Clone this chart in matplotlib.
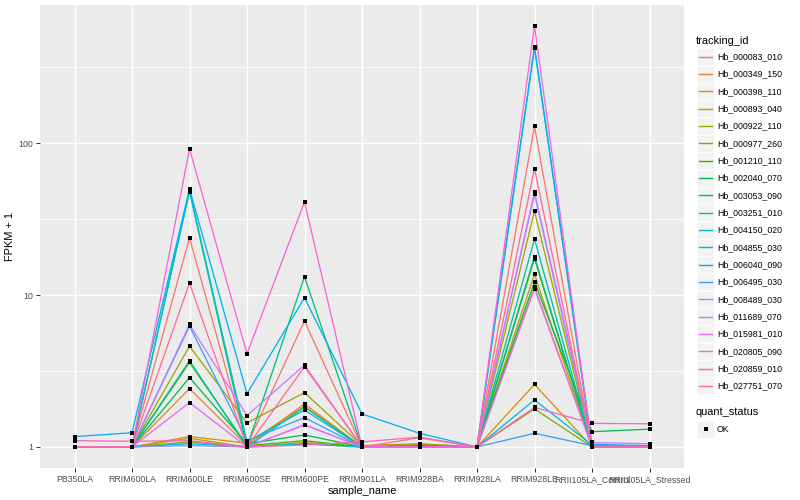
import matplotlib
matplotlib.use("Agg")
import matplotlib.pyplot as plt
from matplotlib.patches import Rectangle
from matplotlib.ticker import FixedLocator, NullFormatter
import numpy as np

plt.rcParams['font.family'] = ['Liberation Sans', 'DejaVu Sans']

samples = ["PB350LA", "RRIM600LA", "RRIM600LE", "RRIM600SE", "RRIM600PE",
           "RRIM901LA", "RRIM928BA", "RRIM928LA", "RRIM928LE",
           "RRII105LA_Control", "RRII105LA_Stressed"]

tracking_ids = ["Hb_000083_010", "Hb_000349_150", "Hb_000398_110", "Hb_000893_040",
                "Hb_000922_110", "Hb_000977_260", "Hb_001210_110", "Hb_002040_070",
                "Hb_003053_090", "Hb_003251_010", "Hb_004150_020", "Hb_004855_030",
                "Hb_006040_090", "Hb_006495_030", "Hb_008489_030", "Hb_011689_070",
                "Hb_015981_010", "Hb_020805_090", "Hb_020859_010", "Hb_027751_070"]

# FPKM + 1 for each gene, in sample order
hb_000083_010 = [1.0, 1.0, 23.8, 1.03, 6.75, 1.0, 1.0, 1.0, 129, 1.0, 1.0]
hb_000349_150 = [1.0, 1.0, 2.42, 1.02, 1.92, 1.0, 1.0, 1.0, 11.3, 1.0, 1.0]
hb_000398_110 = [1.0, 1.0, 1.17, 1.06, 1.85, 1.0, 1.02, 1.0, 2.58, 1.0, 1.0]
hb_000893_040 = [1.0, 1.0, 1.14, 1.0, 1.07, 1.0, 1.04, 1.0, 13.7, 1.0, 1.0]
hb_000922_110 = [1.0, 1.0, 4.6, 1.44, 2.28, 1.02, 1.05, 1.0, 35.7, 1.0, 1.0]
hb_000977_260 = [1.0, 1.0, 1.08, 1.0, 1.05, 1.0, 1.0, 1.0, 1.78, 1.0, 1.0]
hb_001210_110 = [1.0, 1.0, 3.6, 1.02, 1.1, 1.0, 1.0, 1.0, 17.4, 1.0, 1.0]
hb_002040_070 = [1.0, 1.0, 2.86, 1.05, 1.2, 1.0, 1.02, 1.0, 12.2, 1.26, 1.31]
hb_003053_090 = [1.0, 1.0, 48.0, 1.0, 13.2, 1.0, 1.0, 1.0, 17.9, 1.0, 1.0]
hb_003251_010 = [1.0, 1.0, 3.7, 1.0, 1.83, 1.0, 1.0, 1.0, 23.4, 1.0, 1.0]
hb_004150_020 = [1.0, 1.0, 49.0, 1.08, 1.75, 1.0, 1.0, 1.0, 425, 1.0, 1.0]
hb_004855_030 = [1.0, 1.0, 1.05, 1.0, 1.05, 1.0, 1.0, 1.0, 2.04, 1.03, 1.0]
hb_006040_090 = [1.17, 1.24, 50.0, 2.24, 9.6, 1.65, 1.23, 1.0, 430, 1.04, 1.02]
hb_006495_030 = [1.0, 1.0, 6.25, 1.1, 1.56, 1.0, 1.0, 1.0, 1.23, 1.02, 1.0]
hb_008489_030 = [1.0, 1.0, 1.02, 1.0, 1.4, 1.0, 1.0, 1.0, 46.0, 1.0, 1.0]
hb_011689_070 = [1.0, 1.0, 6.4, 1.61, 3.46, 1.0, 1.0, 1.0, 47.5, 1.07, 1.05]
hb_015981_010 = [1.0, 1.0, 1.96, 1.0, 1.4, 1.0, 1.0, 1.0, 11.0, 1.0, 1.0]
hb_020805_090 = [1.0, 1.0, 92.0, 4.1, 41.0, 1.0, 1.0, 1.0, 590, 1.0, 1.0]
hb_020859_010 = [1.1, 1.09, 1.1, 1.0, 1.03, 1.08, 1.16, 1.0, 1.82, 1.43, 1.42]
hb_027751_070 = [1.0, 1.0, 12.0, 1.0, 3.37, 1.0, 1.15, 1.0, 68.0, 1.0, 1.0]

series = [hb_000083_010, hb_000349_150, hb_000398_110, hb_000893_040, hb_000922_110,
          hb_000977_260, hb_001210_110, hb_002040_070, hb_003053_090, hb_003251_010,
          hb_004150_020, hb_004855_030, hb_006040_090, hb_006495_030, hb_008489_030,
          hb_011689_070, hb_015981_010, hb_020805_090, hb_020859_010, hb_027751_070]

colors = ["#F8766D", "#EA8331", "#D89000", "#C09B00", "#A3A500", "#7CAE00", "#39B600",
          "#00BB4E", "#00BF7D", "#00C1A3", "#00BFC4", "#00BAE0", "#00B0F6", "#35A2FF",
          "#9590FF", "#C77CFF", "#E76BF3", "#FA62DB", "#FF62BC", "#FF6C91"]

W, H = 800, 500
fig = plt.figure(figsize=(8, 5), dpi=100)
px = 72 / 100.0  # points per pixel

# panel in pixel coords
pl, pr, pt, pb = 40, 684, 5, 468
ax = fig.add_axes([pl / W, 1 - pb / H, (pr - pl) / W, (pb - pt) / H])
ax.set_facecolor("#EBEBEB")
for s in ax.spines.values():
    s.set_visible(False)

x = np.arange(len(samples))
for vals, c in zip(series, colors):
    ax.plot(x, vals, color=c, lw=1.3 * px, zorder=3, solid_capstyle='butt')
for vals in series:
    ax.plot(x, vals, linestyle='none', marker='s', ms=4.0 * px, mfc='black',
            mec='black', mew=0, zorder=4)

ax.set_yscale('log')
allv = np.log10(np.concatenate([np.array(v, float) for v in series]))
lo, hi = allv.min(), allv.max()
pad = 0.05 * (hi - lo)
ax.set_ylim(10 ** (lo - pad), 10 ** (hi + pad))
ax.set_xlim(-0.6, len(samples) - 1 + 0.6)

ax.yaxis.set_major_locator(FixedLocator([1, 10, 100]))
ax.set_yticklabels(["1", "10", "100"])
ax.yaxis.set_minor_locator(FixedLocator([10 ** 0.5, 10 ** 1.5, 10 ** 2.5]))
ax.yaxis.set_minor_formatter(NullFormatter())
ax.set_xticks(x)
ax.set_xticklabels(samples)

ax.grid(which='major', color='white', lw=1.42 * px, zorder=0)
ax.grid(which='minor', axis='y', color='white', lw=0.71 * px, zorder=0)
ax.set_axisbelow(True)
ax.tick_params(which='major', length=2.75 * px * 1.33, width=1.0 * px, color='#333333',
               labelsize=8.8 * px, labelcolor='#4D4D4D', pad=2.2)
ax.tick_params(which='minor', length=0)

ax.set_xlabel("sample_name", fontsize=11 * px, color='black', labelpad=1.5)
ax.set_ylabel("FPKM + 1", fontsize=11 * px, color='black', labelpad=2.5)

# legend drawn in pixel coordinates on an overlay
ov = fig.add_axes([0, 0, 1, 1], facecolor='none')
ov.set_xlim(0, W)
ov.set_ylim(H, 0)
ov.axis('off')

ov.text(696, 40.7, "tracking_id", fontsize=11 * px, va='center', ha='left')
y0, dy = 56.7, 17.33
for i, (tid, c) in enumerate(zip(tracking_ids, colors)):
    yc = y0 + i * dy
    ov.add_patch(Rectangle((697, yc - 8.5), 17, 17, facecolor='#F2F2F2',
                           edgecolor='white', lw=0.5))
    ov.plot([698.7, 712.3], [yc, yc], color=c, lw=1.42 * px)
    ov.text(717, yc, tid, fontsize=8.8 * px, va='center', ha='left')

ov.text(696, 412.3, "quant_status", fontsize=11 * px, va='center', ha='left')
ov.add_patch(Rectangle((697, 429.3 - 8.5), 17, 17, facecolor='#F2F2F2',
                       edgecolor='white', lw=0.5))
ov.plot([705.5], [429.3], marker='s', ms=4 * px, mfc='black', mec='black', mew=0)
ov.text(717, 429.3, "OK", fontsize=8.8 * px, va='center', ha='left')

fig.savefig("out.png", dpi=100)
